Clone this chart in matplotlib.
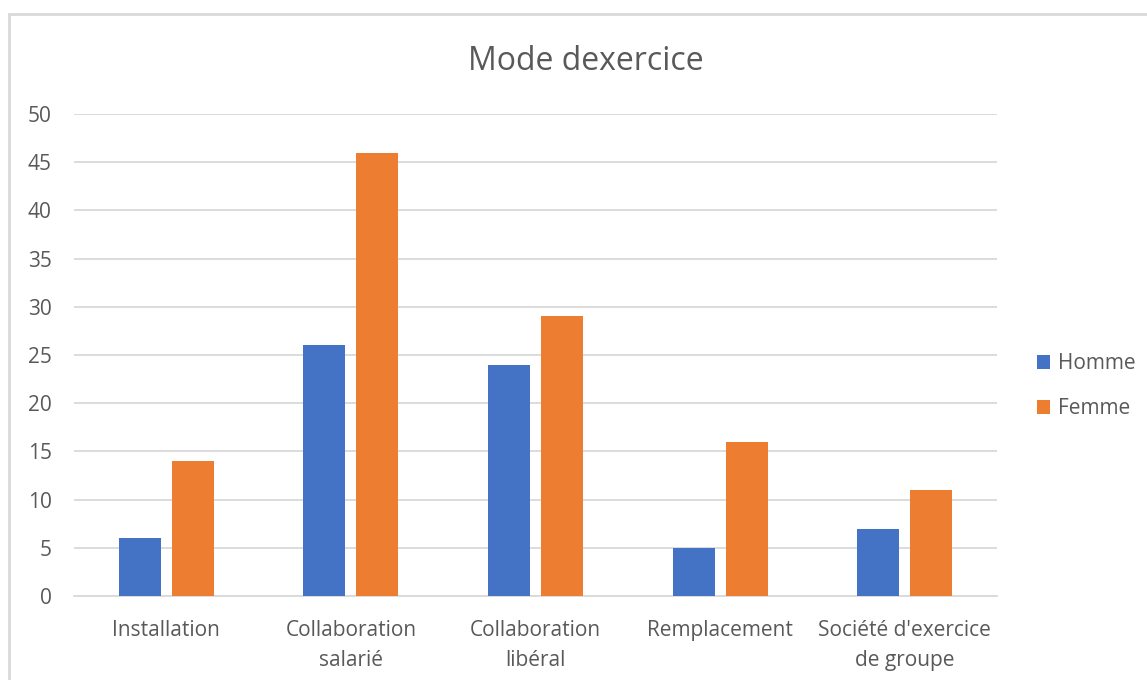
import matplotlib
matplotlib.use('Agg')
import matplotlib.pyplot as plt
from matplotlib.patches import Rectangle
import numpy as np

categories = ['Installation', 'Collaboration\nsalarié', 'Collaboration\nlibéral',
              'Remplacement', "Société d'exercice\nde groupe"]
homme = [6, 26, 24, 5, 7]
femme = [14, 46, 29, 16, 11]
series = ['Homme', 'Femme']
COL = {'blue': '#4472C4', 'orange': '#ED7D31', 'grid': '#D9D9D9', 'text': '#595959'}

plt.rcParams['font.family'] = ['Open Sans', 'DejaVu Sans']

W, H = 1147, 680
fig = plt.figure(figsize=(W / 100, H / 100), dpi=100, facecolor='white')
ax = fig.add_axes([74 / W, 1 - 596 / H, (997 - 74) / W, (596 - 114) / H])

# outer chart frame
fig.patches.append(Rectangle((9 / W, -0.1), 1.2, 1 - 14 / H + 0.1, transform=fig.transFigure,
                             fill=False, edgecolor='#D9D9D9', lw=2))

x = np.arange(len(categories))
w = 0.228
off = 0.1435
ax.bar(x - off, homme, width=w, color=COL['blue'], label=series[0], zorder=3)
ax.bar(x + off, femme, width=w, color=COL['orange'], label=series[1], zorder=3)

ax.set_xlim(-0.5, len(categories) - 0.5)
ax.set_ylim(0, 50)
ax.set_yticks(range(0, 51, 5))
ax.set_xticks(x, categories)
ax.grid(axis='y', color=COL['grid'], lw=1.3, zorder=0)
ax.set_axisbelow(True)
for s in ['top', 'right', 'left']:
    ax.spines[s].set_visible(False)
ax.spines['bottom'].set_color(COL['grid'])
ax.spines['bottom'].set_linewidth(1.3)
ax.tick_params(length=0, labelsize=15, colors=COL['text'])
ax.tick_params(axis='y', pad=16)
ax.tick_params(axis='x', pad=17)
for t in ax.get_xticklabels():
    t.set_linespacing(1.6)

fig.text(586 / W, 1 - 61 / H, 'Mode dexercice', ha='center', va='center',
         fontsize=23, color=COL['text'])

ax.legend(loc='center left', bbox_to_anchor=(1018 / W, 1 - 386 / H),
          bbox_transform=fig.transFigure, frameon=False,
          fontsize=15, labelcolor=COL['text'], handlelength=0.65, handleheight=0.65,
          handletextpad=0.35, labelspacing=1.15)

fig.savefig('out.png', dpi=100, facecolor='white')
